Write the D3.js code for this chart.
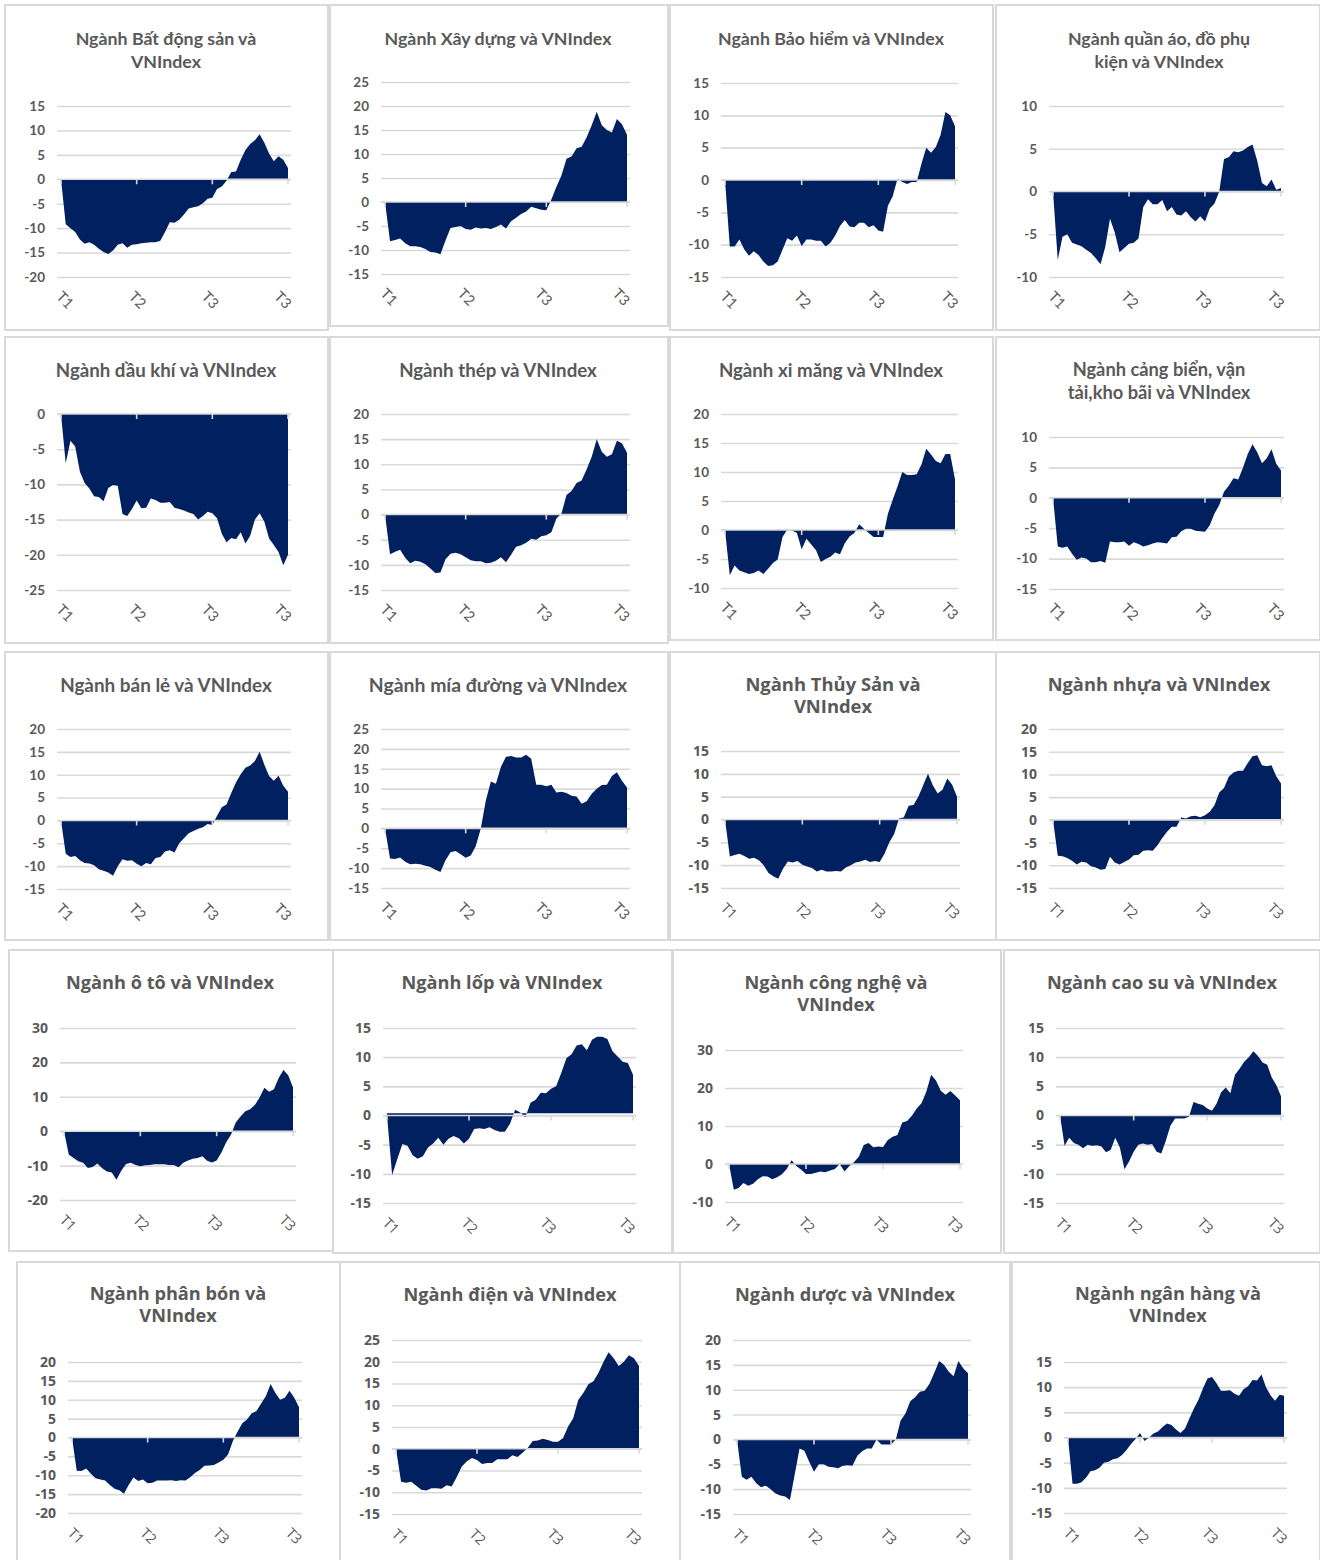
<!DOCTYPE html>
<html>
<head>
<meta charset="utf-8">
<script src="https://cdn.jsdelivr.net/npm/d3@7"></script>
<title>Các ngành và VNIndex</title>
<style>
body { margin: 0; background: #fff; }
</style>
</head>
<body>
<script>

var width = 1320,
    height = 1560;

// ---- data ----
var titles = [
  "Ngành Bất động sản và\nVNIndex",
  "Ngành Xây dựng và VNIndex",
  "Ngành Bảo hiểm và VNIndex",
  "Ngành quần áo, đồ phụ\nkiện và VNIndex",
  "Ngành dầu khí và VNIndex",
  "Ngành thép và VNIndex",
  "Ngành xi măng và VNIndex",
  "Ngành cảng biển, vận\ntải,kho bãi và VNIndex",
  "Ngành bán lẻ và VNIndex",
  "Ngành mía đường và VNIndex",
  "Ngành Thủy Sản và\nVNIndex",
  "Ngành nhựa và VNIndex",
  "Ngành ô tô và VNIndex",
  "Ngành lốp và VNIndex",
  "Ngành công nghệ và\nVNIndex",
  "Ngành cao su và VNIndex",
  "Ngành phân bón và\nVNIndex",
  "Ngành điện và VNIndex",
  "Ngành dược và VNIndex",
  "Ngành ngân hàng và\nVNIndex"
];

var tickLabels = ["T1", "T2", "T3", "T3"];

// y axis [min, max, step] for each panel
var yAxes = [
  [-20, 15, 5], [-15, 25, 5], [-15, 15, 5], [-10, 10, 5],
  [-25, 0, 5],  [-15, 20, 5], [-10, 20, 5], [-15, 10, 5],
  [-15, 20, 5], [-15, 25, 5], [-15, 15, 5], [-15, 20, 5],
  [-20, 30, 10], [-15, 15, 5], [-10, 30, 10], [-15, 15, 5],
  [-20, 20, 5], [-15, 25, 5], [-15, 20, 5], [-15, 15, 5]
];

var batDongSan = [0, -9.2, -10, -10.8, -12.3, -13.2, -12.9, -13.4, -14.2, -14.9, -15.3, -14.6, -13.4, -13.1, -14, -13.4, -13.3,
  -13.1, -13, -12.9, -12.9, -12.6, -10.8, -8.8, -8.9, -8.3, -7.2, -6, -5.7, -5.5, -4.9, -4, -3.8,
  -2, -1.5, -0.3, 1.5, 1.6, 4, 6, 7.2, 8, 9.2, 7.5, 5.3, 3.7, 4.7, 4, 2.3];

var xayDung = [0, -8.2, -7.9, -7.6, -8.6, -9.2, -9.2, -9.4, -9.8, -10.4, -10.5, -10.9, -8, -5.4, -5.2, -5, -5.6,
  -5.8, -5.3, -5.5, -5.4, -5.6, -5.2, -4.7, -5.5, -4, -3.3, -2.5, -2, -1, -1.3, -1.6, -1.7,
  0.5, 3.2, 5.5, 9, 9.5, 11.2, 11.5, 13.5, 16, 18.8, 16, 15, 14.5, 17.3, 16.2, 14];

var baoHiem = [0, -10.3, -10.3, -9.2, -10.7, -11.7, -11, -11.6, -12.6, -13.3, -13.2, -12.6, -10.8, -9, -9.4, -8.6, -10.2,
  -9.2, -9.2, -9.4, -9.4, -10.3, -9.7, -8.6, -7.1, -6.2, -7.2, -7.3, -6.6, -6.6, -7.3, -7, -7.8,
  -8, -4, -2.5, 0.2, -0.3, -0.6, -0.3, -0.3, 2.5, 5, 4.2, 5.1, 7, 10.5, 10, 8.3];

var quanAo = [0, -8, -5.3, -5, -6, -6.2, -6.4, -6.8, -7.2, -7.8, -8.5, -6.5, -3.2, -4.8, -7.1, -6.6, -6.1,
  -6, -5.5, -1.8, -0.9, -1.5, -1.5, -1, -2.3, -1.8, -2.7, -2.8, -2.3, -3, -3.5, -2.9, -3.5,
  -2, -1.4, 0, 3.8, 4, 4.7, 4.6, 4.8, 5.2, 5.5, 3.6, 1, 0.6, 1.4, 0.2, 0.4];

var dauKhi = [0, -7, -3.8, -4.6, -8.2, -9.8, -10.6, -11.7, -11.8, -12.4, -10.5, -10.1, -10.2, -14.2, -14.5, -13.5, -12.3,
  -13.4, -13.3, -12, -12.2, -12.6, -12.6, -12.5, -13.3, -13.5, -13.7, -14, -14.2, -15, -14.5, -13.9, -14.1,
  -14.8, -17, -18.2, -17.6, -17.8, -16.8, -18.4, -17.3, -15, -14.1, -15.3, -17.7, -18.6, -19.6, -21.5, -20];

var thep = [0, -7.9, -7.4, -7, -8.6, -9.7, -9.2, -9.4, -9.9, -10.7, -11.6, -11.5, -8.9, -7.8, -7.6, -7.9, -8.5,
  -9.1, -9.3, -9.3, -9.7, -9.6, -9.2, -8.5, -9.5, -8, -6.4, -6.1, -5.6, -4.8, -5, -4.3, -4.1,
  -3.5, -0.8, 0.2, 3.9, 4.7, 6.3, 6.8, 9, 11.5, 15, 12.5, 11.5, 12, 14.7, 14.2, 12.3];

var xiMang = [0, -7.8, -6.1, -7, -7.3, -7.6, -7.4, -7, -7.6, -6.7, -5.7, -5.1, -1.2, 0.1, -0.1, -0.5, -3.3,
  -1.5, -2.5, -3.5, -5.5, -5, -4.6, -3.9, -4.2, -2.3, -1.1, -0.5, 1, 0.2, -0.5, -1.2, -1.2,
  -1.2, 2.8, 5.2, 7.5, 10, 9.5, 9.5, 9.6, 11.3, 14, 13, 11.9, 11.5, 13.1, 13.1, 8.7];

var cangBien = [0, -8, -8.2, -8, -9.2, -10.2, -9.8, -10, -10.6, -10.6, -10.4, -10.7, -7.2, -7.3, -7.3, -7.2, -7.9,
  -7.3, -7.6, -8, -7.8, -7.5, -7.3, -7.4, -7.5, -6.5, -6.4, -5.5, -5.1, -5.1, -5.4, -5.5, -5.6,
  -4.5, -2.6, -1.2, 1, 2, 3.2, 3, 5, 7.2, 8.8, 7.5, 5.7, 6.5, 8, 5.6, 4.5];

var banLe = [0, -7.3, -8, -7.8, -8.7, -9.3, -9.4, -9.8, -10.7, -11, -11.4, -12.1, -10, -8.5, -8.8, -8.7, -9.5,
  -10, -9.3, -9.6, -8.2, -8, -6.8, -6.5, -7, -5, -3.9, -2.8, -2.3, -1.8, -1.5, -0.8, -1,
  1, 2.9, 3.5, 6, 8.3, 10.1, 11.5, 12, 13, 15, 12.2, 9.7, 8.7, 9.8, 7.6, 6.3];

var miaDuong = [0, -7.6, -7.7, -7.3, -8.4, -9, -8.9, -9, -9.4, -9.7, -10.4, -11, -8, -6, -5.7, -6.5, -7.4,
  -6.8, -4.5, 0, 7, 11.8, 11.2, 15.5, 18, 18.2, 17.8, 17.8, 18.5, 17.5, 11, 11, 10.6,
  11, 9, 9.2, 8.9, 8.2, 8, 6.2, 6.8, 8.7, 10, 10.9, 11, 13.2, 14.1, 12, 10.3];

var thuySan = [0, -8.1, -7.8, -7.5, -8, -8.6, -8.4, -8.9, -10, -11.7, -12.4, -13, -10.8, -9.2, -9.4, -9.1, -9.9,
  -10.3, -10.6, -11.4, -11, -11.4, -11.4, -11.3, -11.4, -10.5, -10, -9.4, -9.2, -8.8, -9.3, -9.1, -9.3,
  -7.5, -5, -3.2, 0.2, 0.5, 3, 3.2, 5, 7.5, 10, 7.5, 5.7, 6.5, 9, 7.6, 5];

var nhua = [0, -7.9, -8, -8.4, -9, -9.8, -9.2, -9.4, -10.2, -10.5, -11, -10.8, -8.1, -9.4, -9.8, -9.3, -8.7,
  -7.8, -7.7, -6.8, -6.7, -6.8, -5.6, -4, -2.6, -1.5, -1.5, 0.5, 0.3, 0.8, 0.9, 0.6, 1,
  1.8, 3.2, 6, 7, 9.5, 10.4, 10.8, 10.8, 12.5, 14, 14.2, 12, 11.8, 12, 9.6, 8];

var oTo = [0, -6.8, -7.8, -8.7, -9.2, -10.7, -10.4, -9.4, -10.8, -11.7, -12, -14.1, -11.5, -9.5, -9.2, -9.8, -10.2,
  -9.9, -9.8, -9.6, -9.6, -9.6, -9.8, -9.8, -10.5, -9.2, -8.5, -8, -7.8, -7.3, -8.6, -9.1, -8.5,
  -6.2, -3.2, -1, 2.5, 4.3, 5.8, 6.4, 7.6, 9.8, 12.6, 11.5, 12.2, 15.5, 17.8, 16.3, 12.7];

var lop = [0, -10.2, -7.5, -4.9, -5.2, -6.8, -7.4, -7, -5.5, -4.8, -3.8, -5, -4, -3.5, -3.9, -4.8, -4,
  -2.3, -2.2, -2.3, -2, -2.5, -2.8, -2.8, -1.4, 1, 0.5, -0.3, 2.2, 2.7, 3.9, 3.8, 4.6,
  5, 7.3, 9.8, 10.5, 12, 12.2, 11.2, 13, 13.5, 13.5, 13.1, 11, 10.1, 9.2, 9, 7];

var congNghe = [0, -6.8, -6.3, -5, -5.7, -5.2, -4, -3.2, -3.3, -4, -3.5, -2.7, -1.3, 1, -0.5, -1.5, -2.6,
  -2.6, -2.3, -2, -2.2, -1.7, -1.3, 0, -2, -0.5, 0.5, 2, 5, 5.5, 4.4, 4.6, 4.5,
  6.3, 7.2, 7.6, 10.9, 11.3, 12.7, 14.6, 16, 19, 23.5, 22, 19.3, 18.2, 19.2, 18, 16.8];

var caoSu = [0, -5.2, -3.8, -4.7, -5, -5.6, -5, -5.2, -5.1, -5.3, -6.3, -5.9, -3.8, -5.5, -9.2, -7.9, -6.2,
  -5, -4.8, -5, -4.9, -6.2, -6.5, -4.3, -1.7, -0.5, -0.5, -0.5, -0.2, 2.3, 2, 1.8, 1.2,
  0.8, 2, 4, 4.8, 3.8, 7, 8, 9.2, 10, 11, 10.2, 9.1, 8.7, 6.5, 5.2, 3.3];

var phanBon = [0, -8.8, -8.9, -8.2, -9.6, -10.8, -11.1, -11.4, -12.6, -13.6, -14, -14.9, -12.5, -10.6, -11.5, -11.1, -12.1,
  -12, -11.4, -11.4, -11.4, -11.3, -11.5, -11.3, -11.4, -10.5, -9.4, -8.6, -7.5, -7.4, -7.3, -6.6, -5.9,
  -4.5, -1, 1.5, 3.8, 4.8, 6.4, 7, 9, 11, 14.2, 11.8, 10, 10.5, 12.4, 10.5, 8];

var dien = [0, -7.6, -7.8, -7.6, -8.5, -9.4, -9.6, -9.1, -9.1, -9.2, -8.4, -8.7, -6.5, -4.1, -2.9, -2.1, -2.6,
  -3.5, -3.3, -3.3, -2.4, -2.4, -2.4, -1.5, -1.9, -0.9, 0.2, 1.8, 1.9, 2.3, 2, 1.6, 1.6,
  2.5, 5.1, 7, 11.2, 12.8, 14.8, 15.5, 17.5, 20, 22.2, 20.8, 19, 20, 21.5, 20.8, 19];

var duoc = [0, -7.5, -8.1, -7.5, -8.8, -9.6, -9.3, -10, -10.9, -11.3, -11.5, -12.2, -7, -1.8, -2.3, -4.5, -6.5,
  -5, -5, -5.5, -5.6, -5.8, -5.3, -5.2, -5.3, -3.3, -2.4, -1.8, -1.8, 0, -1, -1, -1,
  0, 3.8, 5.2, 7.7, 8.5, 9.6, 9.8, 11.2, 13.4, 15.8, 15, 13.6, 12.7, 15.8, 14.3, 13.3];

var nganHang = [0, -9.2, -9.2, -8.9, -8, -6.7, -6.5, -6, -5, -4.8, -4.3, -4.1, -3.5, -2.5, -1.3, -0.3, 0.9,
  -0.7, 0, 0.8, 1.2, 2.1, 2.8, 2.5, 1.6, 0.9, 1.8, 3.8, 5.8, 7.5, 9.8, 11.7, 12,
  10.8, 9.3, 9.3, 9.4, 8.7, 8.3, 9.6, 10.2, 11.4, 11.3, 12.5, 10, 8.4, 7.3, 8.5, 8.3];

var series = [batDongSan, xayDung, baoHiem, quanAo, dauKhi, thep, xiMang, cangBien,
  banLe, miaDuong, thuySan, nhua, oTo, lop, congNghe, caoSu, phanBon, dien, duoc, nganHang];

// ---- layout: box x, y, w, h | title cx, cy | plot x0, x1 | y of top / bottom tick | font group | title size | area base ----
var layout = [
  [5, 5, 323, 325, 166, 39, 61, 288, 106, 277, 0, 17.8, 0],
  [330, 5, 338, 321, 498, 39, 385, 627, 82, 274, 0, 17.8, 0],
  [670, 5, 323, 325, 831, 39, 725, 955, 83, 277, 0, 17.8, 0],
  [996, 5, 324, 325, 1159, 39, 1053, 1281, 106, 277, 0, 17.8, 0],
  [5, 337, 323, 306, 166, 370, 61, 288, 414, 590, 0, 18.7, 0],
  [330, 337, 338, 306, 498, 370, 385, 627, 414, 590, 0, 18.7, 0],
  [670, 337, 323, 303, 831, 370, 725, 955, 414, 588, 0, 18.7, 0],
  [996, 337, 324, 303, 1159, 370, 1053, 1281, 437, 589, 0, 18.3, 0],
  [5, 652, 323, 288, 166, 685, 61, 288, 729, 889, 0, 18.9, 0],
  [330, 652, 338, 288, 498, 685, 385, 627, 729, 888, 0, 19.4, 0],
  [670, 652, 326, 288, 833, 685, 725, 957, 751, 888, 1, 18.4, 0],
  [996, 652, 324, 288, 1159, 685, 1053, 1281, 729, 888, 1, 18.3, 0],
  [9, 950, 324, 301, 170, 983, 64, 293, 1028, 1200, 1, 18.2, 0],
  [333, 950, 339, 303, 502, 983, 387, 633, 1028, 1203, 1, 18.2, 0.4],
  [673, 950, 328, 303, 836, 983, 729, 960, 1050, 1202, 1, 18.2, 0],
  [1004, 950, 316, 303, 1162, 983, 1060, 1281, 1028, 1203, 1, 18.2, 0],
  [17, 1262, 323, 300, 178, 1294, 72, 299, 1362, 1513, 1, 18.2, 0],
  [340, 1262, 340, 300, 510, 1295, 396, 639, 1340, 1514, 1, 18.2, 0],
  [680, 1262, 330, 300, 845, 1295, 737, 968, 1340, 1514, 1, 18.2, 0],
  [1012, 1262, 308, 300, 1168, 1294, 1068, 1284, 1362, 1513, 1, 18.2, 0]
];

var fonts = [
  { family: "Lato, 'Open Sans', sans-serif", lineGap: 23, tick: 13.5, cat: 14.5 },
  { family: "'Open Sans', Lato, sans-serif", lineGap: 22, tick: 14, cat: 14 }
];

// category label positions as fraction of the plotted range
var labelFrac = [0, 0.32, 0.64, 0.96];

var textColor = "#595959",
    gridColor = "#d9d9d9",
    fillColor = "#002060";

var svg = d3.select("body")
  .append("svg")
  .attr("width", width)
  .attr("height", height);

svg.append("rect")
  .attr("width", width)
  .attr("height", height)
  .attr("fill", "#fff");

layout.forEach(function(L, k) {
  var f = fonts[L[10]];
  var values = series[k];
  var ax = yAxes[k];
  var g = svg.append("g");

  g.append("rect")
    .attr("x", L[0]).attr("y", L[1])
    .attr("width", L[2]).attr("height", L[3])
    .attr("fill", "#fff")
    .attr("stroke", gridColor)
    .attr("stroke-width", 2);

  var lines = titles[k].split("\n");
  g.append("text")
    .attr("text-anchor", "middle")
    .attr("font-family", f.family)
    .attr("font-weight", "bold")
    .attr("font-size", L[11])
    .attr("fill", textColor)
    .selectAll("tspan")
    .data(lines)
    .enter()
    .append("tspan")
    .attr("x", L[4])
    .attr("y", function(d, i) { return L[5] + i * f.lineGap; })
    .attr("dy", "0.35em")
    .text(function(d) { return d; });

  var x = d3.scaleLinear()
    .domain([0, values.length - 1])
    .range([L[6], L[7]]);

  var y = d3.scaleLinear()
    .domain([ax[0], ax[1]])
    .range([L[9], L[8]]);

  var ticks = d3.range(ax[0], ax[1] + ax[2] / 2, ax[2]);

  // gridlines + y labels
  var yAxis = d3.axisLeft(y)
    .tickValues(ticks)
    .tickSize(-(L[7] - L[6] + 7))
    .tickPadding(12)
    .tickFormat(function(d) { return String(d); });

  var ya = g.append("g")
    .attr("transform", "translate(" + (L[6] - 4) + ",0)")
    .call(yAxis);
  ya.select(".domain").remove();
  ya.selectAll(".tick line")
    .attr("stroke", gridColor)
    .attr("stroke-width", 1.6);
  ya.selectAll(".tick text")
    .attr("fill", textColor)
    .attr("font-family", f.family)
    .attr("font-weight", "bold")
    .attr("font-size", f.tick);

  // area
  var area = d3.area()
    .x(function(d, i) { return x(i); })
    .y0(y(L[12]))
    .y1(function(d) { return y(d); });

  g.append("path")
    .datum(values)
    .attr("fill", fillColor)
    .attr("d", area);

  // category axis on the zero line
  var n = values.length - 1;
  var tickPos = tickLabels.map(function(d, i) { return x(n * i / (tickLabels.length - 1)); });
  var y0 = y(0);

  g.append("line")
    .attr("x1", L[6] - 4).attr("x2", L[7] + 3)
    .attr("y1", y0).attr("y2", y0)
    .attr("stroke", gridColor)
    .attr("stroke-width", 1.6);

  g.selectAll(".cat-tick")
    .data(tickPos)
    .enter()
    .append("line")
    .attr("x1", function(d) { return d; })
    .attr("x2", function(d) { return d; })
    .attr("y1", y0)
    .attr("y2", y0 + 5)
    .attr("stroke", gridColor)
    .attr("stroke-width", 1.6);

  var labY = L[9] + 23;
  g.selectAll(".cat-label")
    .data(tickLabels)
    .enter()
    .append("text")
    .attr("transform", function(d, i) {
      return "translate(" + (x(n * labelFrac[i]) + 4) + "," + labY + ") rotate(45)";
    })
    .attr("text-anchor", "middle")
    .attr("dy", "0.35em")
    .attr("font-family", f.family)
    .attr("font-size", f.cat)
    .attr("fill", textColor)
    .text(function(d) { return d; });
});

</script>
</body>
</html>
